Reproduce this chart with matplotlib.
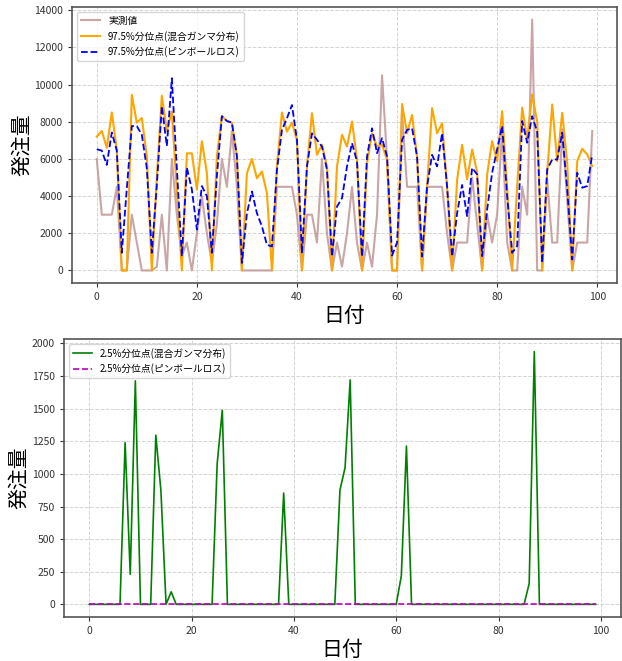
import numpy as np
import matplotlib
matplotlib.use("Agg")
import matplotlib.pyplot as plt

plt.rcParams['font.family'] = ['Noto Sans CJK JP', 'DejaVu Sans']

# 日付 (0..99)
days = np.arange(100)

# 実測値
actual = [6000, 3000, 3000, 3000, 4500, 0, 0, 3000, 1500, 0,
          0, 0, 200, 3000, 0, 6000, 3000, 800, 1500, 0,
          2000, 4000, 2000, 400, 2500, 6000, 4500, 7500, 4500, 0,
          0, 0, 0, 0, 0, 0, 4500, 4500, 4500, 4500,
          3000, 0, 3000, 3000, 1500, 6000, 2000, 0, 1500, 200,
          2000, 4500, 1500, 0, 1500, 200, 3000, 10500, 6000, 0,
          0, 8500, 4500, 4500, 4500, 0, 4500, 4500, 4500, 4500,
          2000, 0, 1500, 1500, 1500, 5000, 2500, 0, 3000, 1500,
          3000, 7600, 1500, 0, 0, 4500, 3000, 13500, 0, 0,
          4900, 1500, 1500, 7600, 3800, 0, 1500, 1500, 1500, 7500]

# 97.5%分位点(混合ガンマ分布)
q975_gamma = [7200, 7500, 6600, 8500, 6500, 0, 0, 9450, 7950, 8200,
              6150, 0, 5000, 9400, 7500, 8550, 4300, 0, 6300, 6300,
              4350, 6950, 5250, 0, 6150, 8300, 8050, 7950, 6150, 0,
              5230, 6000, 4960, 5320, 4160, 0, 5600, 8500, 7470, 7960,
              7000, 0, 5600, 8460, 6220, 6760, 5600, 0, 5600, 7300,
              6670, 8010, 5950, 0, 5770, 7380, 6670, 6760, 5950, 0,
              0, 8960, 7380, 8370, 6130, 0, 4520, 8730, 7380, 7920,
              4500, 0, 4870, 6760, 4900, 6500, 5300, 0, 5170, 6960,
              5880, 8570, 4400, 0, 4500, 8760, 7050, 9470, 8010, 0,
              5260, 8930, 5880, 8480, 5790, 0, 5880, 6550, 6240, 5610]

# 97.5%分位点(ピンボールロス)
q975_pinball = [6520, 6450, 5680, 7420, 6450, 950, 4400, 7770, 7770, 7300,
                5500, 950, 4600, 8840, 6700, 10340, 5500, 770, 5530, 4360,
                2200, 4540, 4000, 950, 5080, 8300, 8040, 7950, 6150, 400,
                3080, 4250, 3080, 2370, 1380, 1290, 5410, 7560, 8190, 8900,
                7030, 930, 5600, 7380, 7030, 6670, 5410, 750, 3440, 3890,
                5600, 6850, 5860, 750, 6130, 7650, 6310, 7120, 6130, 800,
                1500, 7030, 7560, 7650, 6130, 750, 4520, 6220, 5600, 7380,
                4520, 750, 3080, 4600, 2920, 5520, 5170, 770, 3280, 5260,
                6510, 7770, 4000, 950, 1310, 8040, 6870, 8300, 7470, 410,
                5440, 5970, 5970, 7410, 4360, 590, 5260, 4450, 4540, 6240]

# 2.5%分位点(混合ガンマ分布)
q025_gamma = [0, 0, 0, 0, 0, 0, 0, 1240, 230, 1713,
              0, 0, 0, 1297, 870, 0, 96, 0, 0, 0,
              0, 0, 0, 0, 0, 1080, 1488, 0, 0, 0,
              0, 0, 0, 0, 0, 0, 0, 0, 853, 0,
              0, 0, 0, 0, 0, 0, 0, 0, 0, 875,
              1048, 1720, 0, 0, 0, 0, 0, 0, 0, 0,
              0, 218, 1213, 0, 0, 0, 0, 0, 0, 0,
              0, 0, 0, 0, 0, 0, 0, 0, 0, 0,
              0, 0, 0, 0, 0, 0, 160, 1937, 0, 0,
              0, 0, 0, 0, 0, 0, 0, 0, 0, 0]

# 2.5%分位点(ピンボールロス)
q025_pinball = [0] * 100


def style_ax(ax):
    ax.grid(True, linestyle='--', color='#d4d4d4', linewidth=0.7)
    for s in ax.spines.values():
        s.set_color('#555555')
        s.set_linewidth(1.2)
    ax.tick_params(labelsize=7.5, colors='#333333', length=3)
    ax.set_xlabel('日付', fontsize=15, labelpad=2)
    ax.set_ylabel('発注量', fontsize=15, labelpad=1)


fig = plt.figure(figsize=(6.22, 6.61), dpi=100)

# 上段: 97.5%分位点
ax1 = fig.add_axes([72 / 622, 1 - 283 / 661, 545 / 622, 276 / 661])
ax1.plot(days, actual, color='rosybrown', alpha=0.8, linewidth=1.5, label='実測値')
ax1.plot(days, q975_gamma, color='orange', linewidth=1.5, label='97.5%分位点(混合ガンマ分布)')
ax1.plot(days, q975_pinball, color='blue', linestyle='--', linewidth=1.3, label='97.5%分位点(ピンボールロス)')
style_ax(ax1)
ax1.legend(loc='upper left', fontsize=7)

# 下段: 2.5%分位点
ax2 = fig.add_axes([64 / 622, 1 - 617 / 661, 557 / 622, 278 / 661])
ax2.plot(days, q025_gamma, color='green', linewidth=1.2, label='2.5%分位点(混合ガンマ分布)')
ax2.plot(days, q025_pinball, color='m', linestyle='--', linewidth=1.2, label='2.5%分位点(ピンボールロス)')
style_ax(ax2)
ax2.legend(loc='upper left', fontsize=7)

fig.savefig('out.png', dpi=100)
